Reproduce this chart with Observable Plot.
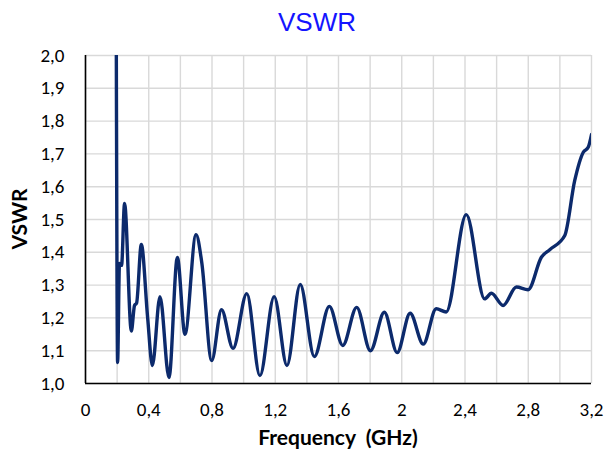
<!DOCTYPE html>
<html><head><meta charset="utf-8">
<script src="https://cdn.jsdelivr.net/npm/d3@7"></script>
<script src="https://cdn.jsdelivr.net/npm/@observablehq/plot@0.6"></script>
<style>
body{margin:0;background:#fff;}
#wrap{position:relative;width:604px;height:450px;overflow:hidden;}
#title{position:absolute;left:0;top:7px;width:604px;padding-left:30px;box-sizing:border-box;text-align:center;font-family:"Liberation Sans",Arial,sans-serif;font-size:26px;color:#1414ff;line-height:30px;}
#chart{position:absolute;left:0;top:45px;}
#xlab{position:absolute;left:85px;width:506px;top:425px;text-align:center;font-family:Lato,"Open Sans",sans-serif;font-weight:bold;font-size:21px;white-space:pre;color:#000;line-height:24px;}
#ylab{position:absolute;left:19px;top:219px;transform:translate(-50%,-50%) rotate(-90deg);font-family:Lato,"Open Sans",sans-serif;font-weight:bold;font-size:21px;color:#000;white-space:pre;line-height:24px;}
</style>
</head><body>
<div id="wrap">
<div id="title">VSWR</div>
<div id="chart"></div>
<div id="xlab">Frequency  (GHz)</div>
<div id="ylab">VSWR</div>
</div>
<script>
const freq = [0.195,0.203,0.215,0.228,0.247,0.290,0.310,0.323,0.353,0.393,0.423,0.471,0.528,0.581,0.629,0.699,0.735,0.798,0.860,0.933,1.020,1.103,1.193,1.274,1.358,1.447,1.542,1.627,1.715,1.802,1.890,1.971,2.053,2.136,2.218,2.281,2.408,2.524,2.567,2.641,2.725,2.799,2.883,2.936,3.031,3.094,3.148,3.179,3.200];
const vswr = [2.000,1.064,1.366,1.360,1.549,1.160,1.238,1.245,1.424,1.200,1.055,1.265,1.018,1.384,1.150,1.454,1.370,1.070,1.225,1.107,1.274,1.024,1.265,1.055,1.302,1.082,1.235,1.116,1.232,1.100,1.217,1.094,1.214,1.120,1.228,1.218,1.515,1.258,1.275,1.238,1.294,1.286,1.385,1.408,1.451,1.619,1.705,1.720,1.759];
const xTicks = [0,0.4,0.8,1.2,1.6,2.0,2.4,2.8,3.2];
const xTickLabels = ["0","0,4","0,8","1,2","1,6","2","2,4","2,8","3,2"];
const xGrid = [0,0.2,0.4,0.6,0.8,1.0,1.2,1.4,1.6,1.8,2.0,2.2,2.4,2.6,2.8,3.0,3.2];
const yTicks = [1.0,1.1,1.2,1.3,1.4,1.5,1.6,1.7,1.8,1.9,2.0];
const yTickLabels = ["1,0","1,1","1,2","1,3","1,4","1,5","1,6","1,7","1,8","1,9","2,0"];

const data = freq.map((f,i)=>({f, v: vswr[i]}));
const fontFam = "Carlito, Lato, 'Open Sans', sans-serif";
const chart = Plot.plot({
  width: 604, height: 405,
  marginLeft: 85, marginRight: 13, marginTop: 10, marginBottom: 67,
  style: {fontFamily: fontFam, fontSize: "19px", color: "#000", background: "#fff"},
  x: {domain: [0, 3.2]},
  y: {domain: [1, 2]},
  marks: [
    Plot.gridX(xGrid, {stroke: "#d9d9d9", strokeOpacity: 1, strokeWidth: 1.4}),
    Plot.gridY(yTicks, {stroke: "#d9d9d9", strokeOpacity: 1, strokeWidth: 1.4}),
    Plot.axisX(xTicks, {tickSize: 0, tickPadding: 19, label: null, fontSize: 19,
      tickFormat: d => xTickLabels[xTicks.indexOf(d)]}),
    Plot.axisY(yTicks, {tickSize: 0, tickPadding: 21, label: null, fontSize: 19,
      tickFormat: d => yTickLabels[yTicks.indexOf(d)]}),
    Plot.line(data, {x: "f", y: "v", curve: "monotone-x", stroke: "#0c2a6c", strokeWidth: 3.4, clip: true}),
    Plot.ruleX([0], {stroke: "#000", strokeWidth: 1.6}),
    Plot.ruleY([1], {stroke: "#000", strokeWidth: 1.6})
  ]
});
document.getElementById("chart").appendChild(chart);
</script>
</body></html>
